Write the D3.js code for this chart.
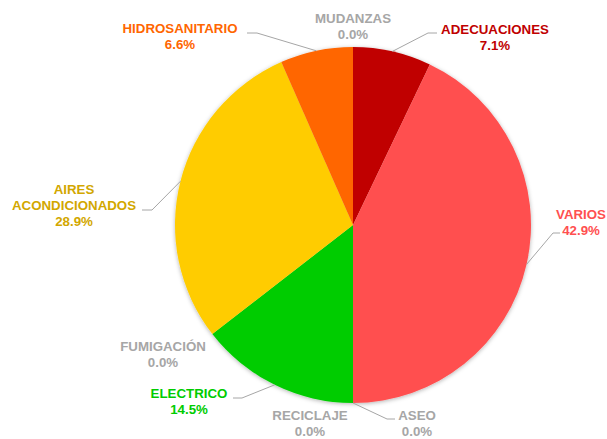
<!DOCTYPE html>
<html>
<head>
<meta charset="utf-8">
<script src="https://cdn.jsdelivr.net/npm/d3@7"></script>
<style>
  html, body { margin: 0; padding: 0; background: #ffffff; }
  svg { display: block; }
</style>
</head>
<body>
<svg id="chart" width="607" height="439"></svg>
<script>
// ---- data ----
const categories = ["ADECUACIONES", "VARIOS", "ASEO", "RECICLAJE", "ELECTRICO", "FUMIGACIÓN", "AIRES ACONDICIONADOS", "HIDROSANITARIO", "MUDANZAS"];
const values = [7.1, 42.9, 0.0, 0.0, 14.5, 0.0, 28.9, 6.6, 0.0];

// ---- styles ----
const sliceColors = ["#C00000", "#FF5050", "#A6A6A6", "#A6A6A6", "#00CC00", "#A6A6A6", "#FFCC00", "#FF6600", "#A6A6A6"];
const labelColors = ["#C00000", "#FF5050", "#A6A6A6", "#A6A6A6", "#00CC00", "#A6A6A6", "#D2A700", "#FF6600", "#A6A6A6"];

// ---- layout (label placement) ----
const labelLayout = {
  "ADECUACIONES":         { x: 495, y: 34,  lines: ["ADECUACIONES"], leader: [[428, 33], [437, 33]] },
  "VARIOS":               { x: 581, y: 219, lines: ["VARIOS"], leader: [[553, 233], [560, 233]] },
  "ASEO":                 { x: 417, y: 420, lines: ["ASEO"], leader: [[387, 419], [395, 419]] },
  "RECICLAJE":            { x: 310, y: 420, lines: ["RECICLAJE"], leader: null },
  "ELECTRICO":            { x: 189, y: 398, lines: ["ELECTRICO"], leader: [[242, 398], [233, 398]] },
  "FUMIGACIÓN":           { x: 163, y: 351, lines: ["FUMIGACIÓN"], leader: null },
  "AIRES ACONDICIONADOS": { x: 74,  y: 194, lines: ["AIRES", "ACONDICIONADOS"], leader: [[152, 210], [142, 210]] },
  "HIDROSANITARIO":       { x: 180, y: 33,  lines: ["HIDROSANITARIO"], leader: [[257, 33], [247, 33]] },
  "MUDANZAS":             { x: 353, y: 23,  lines: ["MUDANZAS"], leader: null }
};

const cx = 353, cy = 225, radius = 178;
const lineH = 16;

const svg = d3.select("#chart");
const defs = svg.append("defs");
const filt = defs.append("filter").attr("id", "shadow")
  .attr("x", "-10%").attr("y", "-10%").attr("width", "120%").attr("height", "120%");
filt.append("feDropShadow").attr("dx", 0).attr("dy", 1).attr("stdDeviation", 2.2)
  .attr("flood-color", "#000").attr("flood-opacity", 0.3);

const data = categories.map((c, i) => ({ name: c, value: values[i], i }));

const pie = d3.pie().sort(null).value(d => d.value);
const arcs = pie(data);

const arc = d3.arc().innerRadius(0).outerRadius(radius);
const edgeArc = d3.arc().innerRadius(radius).outerRadius(radius);

const g = svg.append("g").attr("transform", `translate(${cx},${cy})`);

g.append("g").attr("filter", "url(#shadow)")
  .selectAll("path")
  .data(arcs.filter(d => d.data.value > 0))
  .join("path")
  .attr("d", arc)
  .attr("fill", d => sliceColors[d.data.i]);

// leader lines
const lineGen = d3.line();
arcs.forEach(d => {
  const lay = labelLayout[d.data.name];
  if (!lay.leader) return;
  const start = edgeArc.centroid(d);
  const pts = [[start[0] + cx, start[1] + cy], lay.leader[0], lay.leader[1]];
  svg.append("path")
    .attr("d", lineGen(pts))
    .attr("fill", "none")
    .attr("stroke", "#A6A6A6")
    .attr("stroke-width", 1);
});

// labels
const fmt = d3.format(".1f");
arcs.forEach(d => {
  const lay = labelLayout[d.data.name];
  const t = svg.append("text")
    .attr("x", lay.x)
    .attr("y", lay.y)
    .attr("text-anchor", "middle")
    .attr("font-family", "'Liberation Sans', Arial, sans-serif")
    .attr("font-weight", "bold")
    .attr("font-size", "13.3px")
    .attr("fill", labelColors[d.data.i]);
  const lines = lay.lines.concat([fmt(d.data.value) + "%"]);
  lines.forEach((ln, k) => {
    t.append("tspan").attr("x", lay.x).attr("y", lay.y + k * lineH).text(ln);
  });
});
</script>
</body>
</html>
